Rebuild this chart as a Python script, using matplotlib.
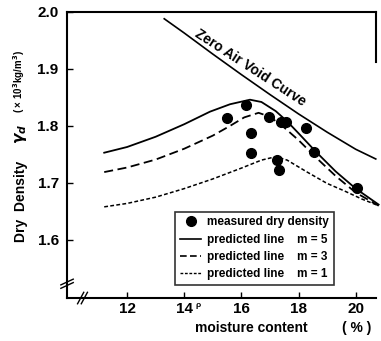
import matplotlib.pyplot as plt
from matplotlib.lines import Line2D

plt.rcParams['font.family'] = ['Liberation Sans', 'DejaVu Sans']
plt.rcParams['font.weight'] = 'bold'

# measured points (moisture %, dry density x10^3 kg/m^3)
meas_w = [15.5, 16.15, 16.35, 16.35, 16.95, 17.25, 17.3, 17.4, 17.55, 18.25, 18.55, 20.05]
meas_d = [1.814, 1.837, 1.788, 1.753, 1.816, 1.740, 1.723, 1.807, 1.807, 1.796, 1.754, 1.691]

# zero air void curve
zav_w = [13.3, 14.0, 15.0, 16.0, 17.0, 18.0, 19.0, 20.0, 20.7]
zav_d = [1.988, 1.963, 1.926, 1.890, 1.855, 1.821, 1.789, 1.759, 1.742]

# predicted lines
m5_w = [11.2, 12.0, 13.0, 14.0, 14.9, 15.6, 16.3, 16.7, 17.2, 17.6, 18.0, 18.6, 19.3, 20.0, 20.8]
m5_d = [1.753, 1.763, 1.781, 1.803, 1.825, 1.838, 1.846, 1.842, 1.826, 1.808, 1.787, 1.755, 1.720, 1.690, 1.662]

m3_w = [11.2, 12.0, 13.0, 14.0, 15.0, 15.6, 16.1, 16.6, 17.0, 17.5, 18.0, 18.6, 19.3, 20.0, 20.8]
m3_d = [1.719, 1.727, 1.741, 1.760, 1.783, 1.800, 1.815, 1.823, 1.816, 1.797, 1.775, 1.745, 1.712, 1.683, 1.660]

m1_w = [11.2, 12.0, 13.0, 14.0, 15.0, 16.0, 16.7, 17.2, 17.6, 18.3, 19.0, 19.6, 20.2, 20.8]
m1_d = [1.658, 1.664, 1.675, 1.690, 1.707, 1.726, 1.740, 1.746, 1.740, 1.719, 1.699, 1.686, 1.672, 1.660]

x_ticks = [12, 14, 16, 18, 20]
y_ticks = [1.6, 1.7, 1.8, 1.9, 2.0]

fig = plt.figure(figsize=(3.81, 3.41), dpi=100)
ax = fig.add_axes([0.176, 0.126, 0.811, 0.839])

ax.plot(zav_w, zav_d, color='black', lw=1.2, clip_on=False)
ax.plot(m5_w, m5_d, color='black', lw=1.3, clip_on=False)
ax.plot(m3_w, m3_d, color='black', lw=1.3, ls=(0, (5, 2.5)), clip_on=False)
ax.plot(m1_w, m1_d, color='black', lw=1.1, ls=(0, (2.5, 1.5)), clip_on=False)
ax.plot(meas_w, meas_d, 'o', color='black', ms=7, ls='none', clip_on=False)

ax.set_xlim(9.9, 20.71)
ax.set_ylim(1.498, 2.0)
ax.set_xticks(x_ticks)
ax.set_yticks(y_ticks)
ax.set_yticklabels(['%.1f' % v for v in y_ticks])
ax.tick_params(direction='in', length=4, width=1, labelsize=11)
ax.tick_params(axis='x', pad=3)
ax.tick_params(axis='y', pad=6)
for s in ['left', 'bottom', 'top', 'right']:
    ax.spines[s].set_linewidth(1.5)
ax.spines['right'].set_bounds(1.912, 2.0)

ax.text(16.3, 1.902, 'Zero Air Void Curve', rotation=-33, fontsize=10,
        ha='center', va='center', rotation_mode='anchor')

# axis break marks
for dx in (-0.006, 0.006):
    ax.plot([0.04 + dx, 0.06 + dx], [-0.02, 0.02], transform=ax.transAxes,
            color='black', lw=1, clip_on=False)
for dy in (-0.006, 0.006):
    ax.plot([-0.02, 0.02], [0.04 + dy, 0.06 + dy], transform=ax.transAxes,
            color='black', lw=1, clip_on=False)

handles = [
    Line2D([], [], marker='o', color='black', ls='none', ms=7),
    Line2D([], [], color='black', lw=1.2),
    Line2D([], [], color='black', lw=1.2, ls=(0, (4, 2))),
    Line2D([], [], color='black', lw=1.0, ls=(0, (2, 1.2))),
]
labels = ['measured dry density',
          'predicted line    m = 5',
          'predicted line    m = 3',
          'predicted line    m = 1']
leg = ax.legend(handles, labels, loc='lower left', bbox_to_anchor=(0.35, 0.045),
                fontsize=8.5, frameon=True, fancybox=False, edgecolor='black',
                handlelength=1.8, handletextpad=0.5, borderpad=0.4,
                labelspacing=0.45, borderaxespad=0)
leg.get_frame().set_linewidth(1.2)

# y label in parts
fig.text(0.055, 0.29, 'Dry  Density', rotation=90, fontsize=10,
         ha='center', va='bottom')
fig.text(0.055, 0.578, r'$\gamma_d$', rotation=90, fontsize=11,
         ha='center', va='bottom')
fig.text(0.05, 0.67, '( × 10$^3$kg/m$^3$)', rotation=90, fontsize=7,
         ha='center', va='bottom')

fig.text(0.66, 0.038, 'moisture content', fontsize=10, ha='center', va='center')
fig.text(0.935, 0.038, '( % )', fontsize=10, ha='center', va='center')
fig.text(0.52, 0.105, 'ρ', fontsize=6, ha='center', va='center')

fig.savefig('out.png', dpi=100)
